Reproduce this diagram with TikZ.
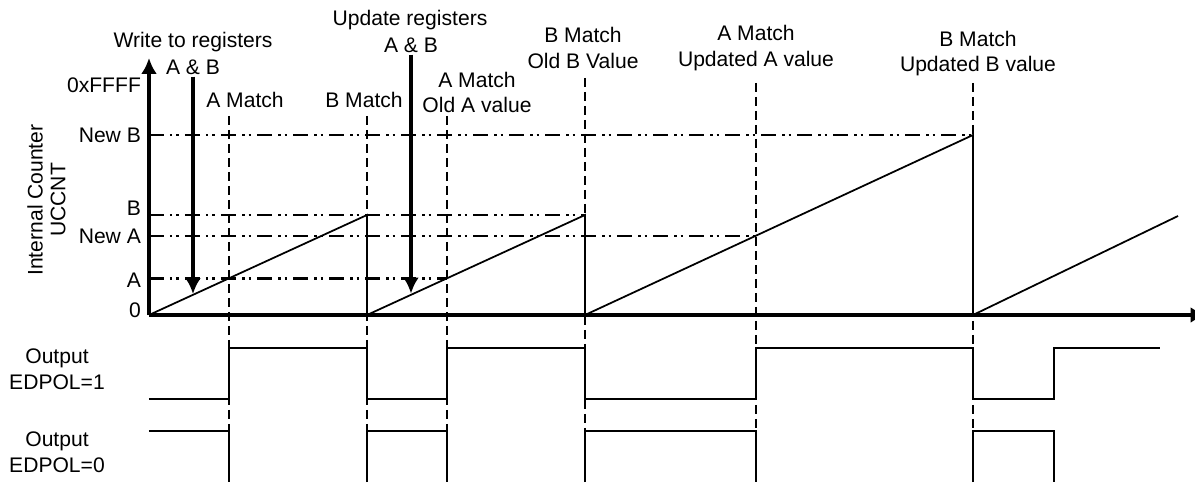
\documentclass[tikz,border=0pt]{standalone}
\usepackage{fontspec}
\setmainfont{Liberation Sans}
\usetikzlibrary{arrows.meta, positioning}

\tikzset{
  axis/.style={line width=2.3pt, -{Latex[length=0.32cm,width=0.32cm]}},
  regarrow/.style={line width=1.9pt, -{Latex[length=0.32cm,width=0.32cm]}},
  matchline/.style={line width=1.5pt, dash pattern=on 0.18cm off 0.1cm},
  level/.style={line width=1.6pt, dash pattern=on 0.3cm off 0.12cm on 0.05cm off 0.08cm on 0.05cm off 0.12cm},
  ramp/.style={line width=1pt},
  wave/.style={line width=1.4pt},
  lbl/.style={align=center, inner sep=1pt},
  ylbl/.style={anchor=east, inner sep=1pt},
}

\begin{document}
\begin{tikzpicture}[font=\fontsize{12}{14.7}\selectfont]
  \useasboundingbox (-2.98,-3.34) rectangle (20.92,6.3);

  % counter levels
  \draw [level] (0,3.6) -- (16.48,3.6);
  \draw [level] (0,2.0) -- (8.72,2.0);
  \draw [level] (0,1.58) -- (12.14,1.58);
  \draw [level] (0,0.73) -- (5.96,0.73);

  % compare match instants
  \draw [matchline] (1.6,3.98) -- (1.6,-3.34);
  \draw [matchline] (4.36,3.98) -- (4.36,-3.34);
  \draw [matchline] (5.96,3.98) -- (5.96,-3.34);
  \draw [matchline] (8.72,4.74) -- (8.72,-3.34);
  \draw [matchline] (12.14,4.64) -- (12.14,-3.34);
  \draw [matchline] (16.48,4.64) -- (16.48,-3.34);

  % UCCNT sawtooth
  \draw [ramp] (0,0) -- (4.36,2.0) -- (4.36,0) -- (8.72,2.0) -- (8.72,0)
    -- (16.48,3.6) -- (16.48,0) -- (20.58,1.98);

  % axes
  \coordinate (o) at (0,0);
  \coordinate (ytop) at (0,5.14);
  \coordinate (xend) at (21.15,0);
  \draw [axis] (o) -- (ytop);
  \draw [axis] (o) -- (xend);

  % axis labels
  \node [ylbl] (ffff) at (-0.12,4.6) {0xFFFF};
  \node [ylbl] (newb) at (-0.12,3.6) {New B};
  \node [ylbl] (bval) at (-0.12,2.14) {B};
  \node [ylbl] (newa) at (-0.12,1.58) {New A};
  \node [ylbl] (aval) at (-0.12,0.7) {A};
  \node [ylbl] (zero) at (-0.12,0.1) {0};
  \node [rotate=90, inner sep=1pt] (ic) at (-2.28,2.3) {Internal Counter};
  \node [rotate=90, inner sep=1pt] (uc) at (-1.82,2.3) {UCCNT};

  % register writes
  \node [lbl] (wr) at (0.88,5.46) {Write to registers};
  \node [lbl] (wab) at (0.88,4.96) {A \& B};
  \coordinate (wtip) at (0.88,0.42);
  \draw [regarrow] (wab.south) -- (wtip);
  \node [lbl] (ur) at (5.22,5.9) {Update registers};
  \node [lbl] (uab) at (5.24,5.4) {A \& B};
  \coordinate (utip) at (5.24,0.43);
  \draw [regarrow] (uab.south) -- (utip);

  % match labels
  \node [lbl] (am1) at (1.92,4.3) {A Match};
  \node [lbl] (bm1) at (4.3,4.3) {B Match};
  \node [lbl] (am2) at (6.56,4.45) {A Match\\Old A value};
  \node [lbl] (bm2) at (8.68,5.34) {B Match\\Old B Value};
  \node [lbl] (am3) at (12.14,5.34) {A Match\\Updated A value};
  \node [lbl] (bm3) at (16.58,5.23) {B Match\\Updated B value};

  % outputs
  \node [lbl] (out1) at (-1.84,-1.08) {Output\\EDPOL=1};
  \node [lbl] (out0) at (-1.84,-2.74) {Output\\EDPOL=0};
  \draw [wave] (0,-1.68) -- (1.6,-1.68) -- (1.6,-0.66) -- (4.36,-0.66)
    -- (4.36,-1.68) -- (5.96,-1.68) -- (5.96,-0.66) -- (8.72,-0.66)
    -- (8.72,-1.68) -- (12.14,-1.68) -- (12.14,-0.66) -- (16.48,-0.66)
    -- (16.48,-1.68) -- (18.1,-1.68) -- (18.1,-0.66) -- (20.22,-0.66);
  \draw [wave] (0,-2.32) -- (1.6,-2.32) -- (1.6,-3.34);
  \foreach \a/\b in {4.36/5.96, 8.72/12.14, 16.48/18.1}
    \draw [wave] (\a,-3.34) -- (\a,-2.32) -- (\b,-2.32) -- (\b,-3.34);
\end{tikzpicture}
\end{document}
